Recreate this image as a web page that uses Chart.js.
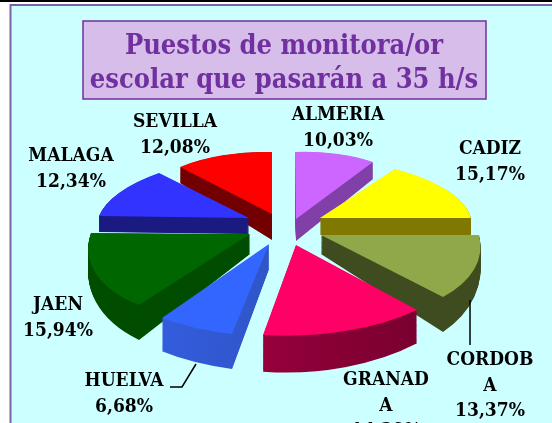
<!DOCTYPE html>
<html><head><meta charset="utf-8">
<style>html,body{margin:0;padding:0;background:#fff;overflow:hidden}
#wrap{position:absolute;left:0;top:0;width:552px;height:423px}</style>
<script src="https://cdn.jsdelivr.net/npm/chart.js@4"></script></head>
<body><div id="wrap"><canvas id="c" width="552" height="423"></canvas></div>
<script>
const categories = ['ALMERIA','CADIZ','CORDOBA','GRANADA','HUELVA','JAEN','MALAGA','SEVILLA'];
const values = [10.03,15.17,13.37,14.39,6.68,15.94,12.34,12.08];
const topColors = ['#CC66FF','#FFFF00','#8FA84A','#FF0066','#3366FF','#006600','#3333FF','#FF0000'];
const sideColors = ['#8040A8','#807800','#3F4C20','#8F0038','#2F55C8','#004D00','#1A1A80','#730000'];
const sideEndColors = ['#8040A8','#807800','#3F4C20','#6E002C','#2A4AA8','#004D00','#1A1A80','#730000'];
const sideStartColors = ['#8040A8','#807800','#3F4C20','#B80048','#3763EE','#004D00','#1A1A80','#730000'];
const titleLines = ['Puestos de monitora/or','escolar que pasarán a 35 h/s'];
const labelLines = [['ALMERIA'],['CADIZ'],['CORDOB','A'],['GRANAD','A'],['HUELVA'],['JAEN'],['MALAGA'],['SEVILLA']];
const labelAnchors = [[338,120],[490,154],[490,365],[386,385],[124,386],[58,310],[71,161],[175,127]];
// per-slice view of the tilted, exploded pie: linear map, pivot, extrusion
const sliceMaps = [[132,-4.9,1,67],[150.8,-.8,17.2,60.1],[157.7,-1,24.2,83.2],[182.9,-5,.9,90.6],[183.4,3.1,-3.1,92.2],[160,-2.1,-24.2,84.9],[150.8,-.3,-19,62.3],[133.6,2.9,0,62]];
const slicePivots = [[296,219],[320,218],[321,235],[296,245],[269,244],[250,234],[249,218],[272,214]];
const sliceDepths = [[22,.088],[17,0],[19,.258],[25,.13],[25,.11],[20,.21],[16,0],[26,.213]];
const drawOrder = [7,0,6,1,5,2,4,3];
const FONT = '"DejaVu Serif Condensed","DejaVu Serif"';
const pct = v => v.toFixed(2).replace('.',',') + '%';

const pie3d = {
  id:'pie3d',
  beforeDatasetsDraw(chart){
    const {ctx} = chart, meta = chart.getDatasetMeta(0), steps = 40;
    drawOrder.forEach(i=>{
      const arc = meta.data[i], o = arc.options, bg = o.backgroundColor;
      const [mx1,my1,mx2,my2] = sliceMaps[i], [px,py] = slicePivots[i], [D,k] = sliceDepths[i];
      const R = arc.outerRadius;
      const place = t=>{
        const g = 1 + t*k;
        const a = mx1/R, c = mx2/R, b = my1/R*g, d = my2/R*g;
        ctx.setTransform(a,b,c,d,px-a*arc.x-c*arc.y,py+t*D-b*arc.x-d*arc.y);
      };
      const shade = ctx.createLinearGradient(arc.x-R,arc.y,arc.x+R,arc.y);
      shade.addColorStop(0,sideStartColors[i]);
      shade.addColorStop(.5,sideColors[i]);
      shade.addColorStop(1,sideEndColors[i]);
      ctx.save();
      o.backgroundColor = shade;
      for(let s=steps;s>0;s--){place(s/steps);arc.draw(ctx);}
      o.backgroundColor = bg;
      place(0);arc.draw(ctx);
      ctx.restore();
    });
    return false;
  },
  afterDraw(chart){
    const {ctx} = chart;
    ctx.save();
    ctx.strokeStyle='#000';ctx.lineWidth=1.5;
    ctx.beginPath();ctx.moveTo(470,300);ctx.lineTo(470,345);ctx.stroke();
    ctx.beginPath();ctx.moveTo(170,387);ctx.lineTo(182,387);ctx.lineTo(196,364);ctx.stroke();
    ctx.textAlign='center';ctx.textBaseline='alphabetic';
    ctx.fillStyle='#000';ctx.font='bold 19px '+FONT;
    categories.forEach((c,i)=>{
      const [x,y]=labelAnchors[i];
      const lines=[...labelLines[i],pct(values[i])];
      lines.forEach((t,k)=>ctx.fillText(t,x,y+k*25.5));
    });
    ctx.restore();
  }
};
const frame = {
  id:'frame',
  beforeDraw(chart){
    const {ctx}=chart;
    ctx.save();
    ctx.fillStyle='#000';ctx.fillRect(0,0,552,2);
    ctx.fillStyle='#CCFFFF';ctx.fillRect(10,5,542,418);
    ctx.strokeStyle='#7B62A8';ctx.lineWidth=2;
    ctx.beginPath();ctx.moveTo(10.5,430);ctx.lineTo(10.5,5);ctx.lineTo(560,5);ctx.stroke();
    ctx.fillStyle='#D7BDE9';ctx.fillRect(83,21,403,78);
    ctx.strokeStyle='#7030A0';ctx.lineWidth=1.5;ctx.strokeRect(83,21,403,78);
    ctx.fillStyle='#7030A0';ctx.textAlign='center';ctx.font='bold 27px '+FONT;
    ctx.fillText(titleLines[0],284,54);ctx.fillText(titleLines[1],284,88);
    ctx.restore();
  }
};
new Chart(document.getElementById('c'),{
  type:'pie',
  data:{labels:categories,datasets:[{data:values,backgroundColor:topColors,borderWidth:0,radius:100}]},
  options:{responsive:false,animation:false,rotation:0,layout:{padding:0},
    plugins:{legend:{display:false},title:{display:false},tooltip:{enabled:false}}},
  plugins:[frame,pie3d]
});
</script></body></html>
